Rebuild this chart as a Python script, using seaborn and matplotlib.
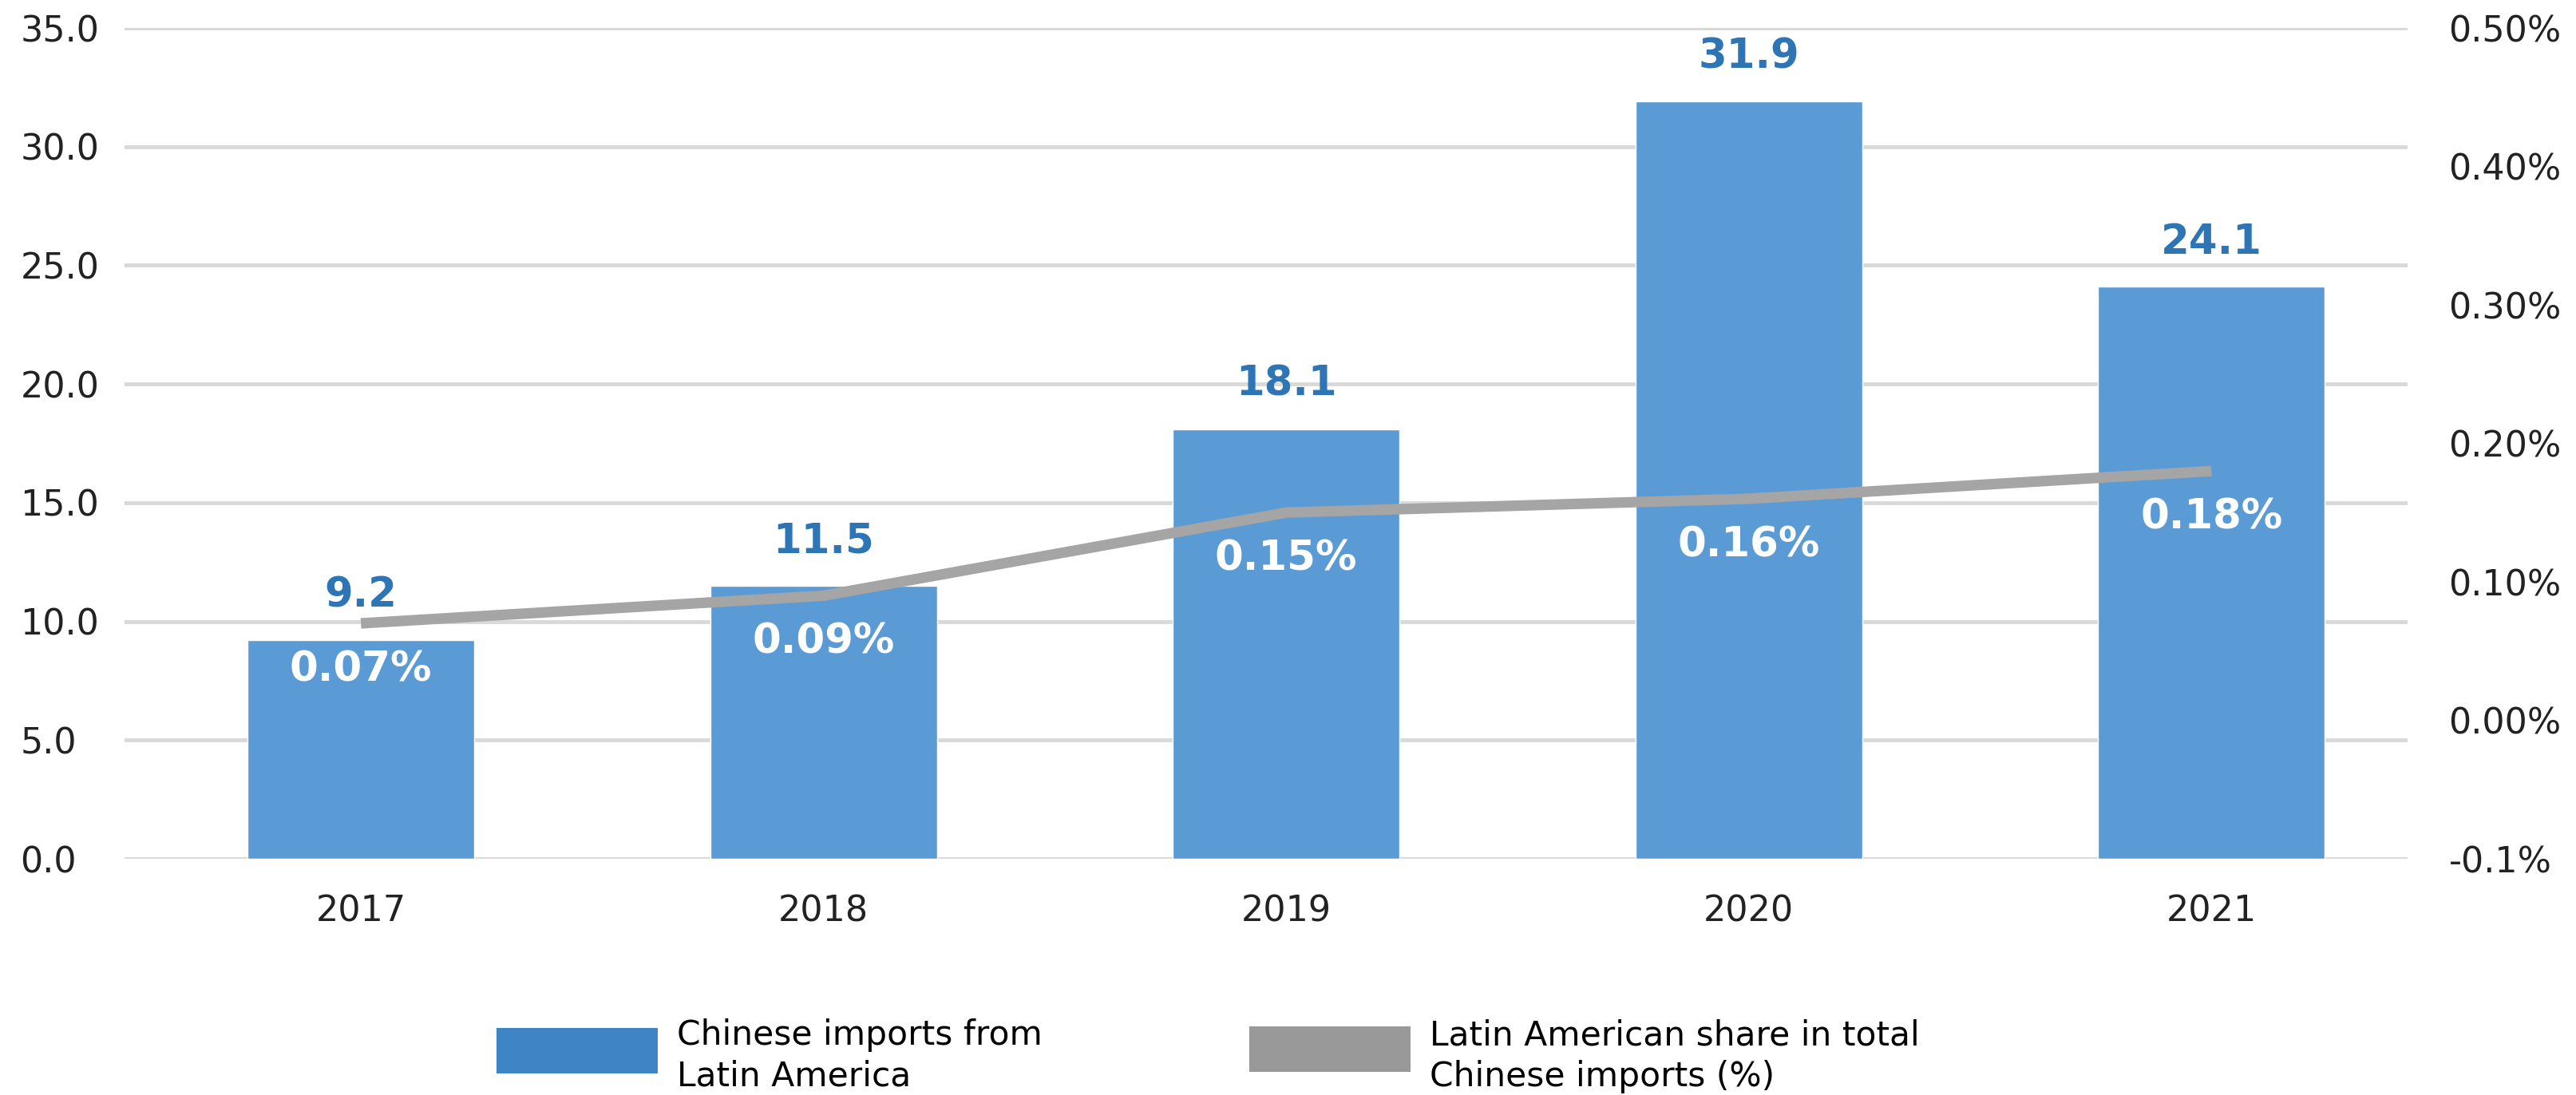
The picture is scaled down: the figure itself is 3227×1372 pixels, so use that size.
import numpy as np
import pandas as pd
import matplotlib
matplotlib.use("Agg")
import matplotlib.pyplot as plt
from matplotlib.patches import Rectangle
import seaborn as sns

# Data
years = ["2017", "2018", "2019", "2020", "2021"]
imports_bn = [9.2, 11.5, 18.1, 31.9, 24.1]          # Chinese imports from Latin America
share_pct = [0.07, 0.09, 0.15, 0.16, 0.18]          # Latin American share in total Chinese imports (%)
left_ticks = [0, 5, 10, 15, 20, 25, 30, 35]
right_ticks = [-0.1, 0.0, 0.1, 0.2, 0.3, 0.4, 0.5]
right_tick_labels = ["-0.1%", "0.00%", "0.10%", "0.20%", "0.30%", "0.40%", "0.50%"]
legend_labels = ["Chinese imports from\nLatin America",
                 "Latin American share in total\nChinese imports (%)"]

BAR_BLUE = "#5b9bd5"
LABEL_BLUE = "#2e75b6"
LEGEND_BLUE = "#3f85c6"
LINE_GREY = "#a5a5a5"
LEGEND_GREY = "#999999"
GRID = "#d9d9d9"
TEXT = "#222222"

sns.set_theme(style="white")
plt.rcParams["font.family"] = ["DejaVu Sans"]

W, H = 3227, 1372
fig = plt.figure(figsize=(W / 100, H / 100), dpi=100)
ax = fig.add_axes([156 / W, 1 - 1076 / H, (3016 - 156) / W, (1076 - 35) / H])

df = pd.DataFrame({"year": years, "imports": imports_bn, "share": share_pct})

# Bars
sns.barplot(data=df, x="year", y="imports", color=BAR_BLUE, saturation=1,
            width=0.49, ax=ax, zorder=2)
ax.set_ylim(0, 35)
ax.set_xlim(-0.511, 4.424)
ax.set_yticks(left_ticks)
ax.set_yticklabels([f"{v:.1f}" for v in left_ticks])
ax.yaxis.grid(True, color=GRID, linewidth=3.5, zorder=0)
ax.set_axisbelow(True)
ax.set_xlabel("")
ax.set_ylabel("")
for s in ax.spines.values():
    s.set_visible(False)
ax.tick_params(axis="y", length=0, pad=94, labelsize=32, labelcolor=TEXT)
for lab in ax.get_yticklabels():
    lab.set_horizontalalignment("left")
ax.tick_params(axis="x", length=0, pad=32, labelsize=32, labelcolor=TEXT)

for i, v in enumerate(imports_bn):
    ax.annotate(f"{v:.1f}", (i, v), xytext=(0, 30), textcoords="offset points",
                ha="center", va="baseline", fontsize=37, fontweight="bold",
                color=LABEL_BLUE)

# Share line on the secondary axis
ax2 = ax.twinx()
sns.lineplot(x=np.arange(len(years)), y=share_pct, ax=ax2, color=LINE_GREY,
             linewidth=9.5, solid_capstyle="butt", legend=False)
ax2.set_ylim(-0.1, 0.5)
ax2.set_xlim(-0.511, 4.424)
ax2.set_yticks(right_ticks)
ax2.set_yticklabels(right_tick_labels)
ax2.set_ylabel("")
for s in ax2.spines.values():
    s.set_visible(False)
ax2.tick_params(axis="y", length=0, pad=37, labelsize=32, labelcolor=TEXT)
ax2.grid(False)

for i, v in enumerate(share_pct):
    ax2.annotate(f"{v:.2f}%", (i, v), xytext=(0, -42), textcoords="offset points",
                 ha="center", va="center", fontsize=37, fontweight="bold",
                 color="white", zorder=5)

# Legend
def legend_entry(x0, y0, x1, y1, color, label, tx):
    fig.add_artist(Rectangle((x0 / W, 1 - y1 / H), (x1 - x0) / W, (y1 - y0) / H,
                             transform=fig.transFigure, facecolor=color,
                             edgecolor="none"))
    fig.text(tx / W, 1 - 1276 / H, label, ha="left", va="top", fontsize=30.5,
             color="black", linespacing=1.3)

legend_entry(622, 1288, 824, 1345, LEGEND_BLUE, legend_labels[0], 848)
legend_entry(1565, 1286, 1767, 1343, LEGEND_GREY, legend_labels[1], 1791)

fig.savefig("out.png", dpi=100, facecolor="white")
